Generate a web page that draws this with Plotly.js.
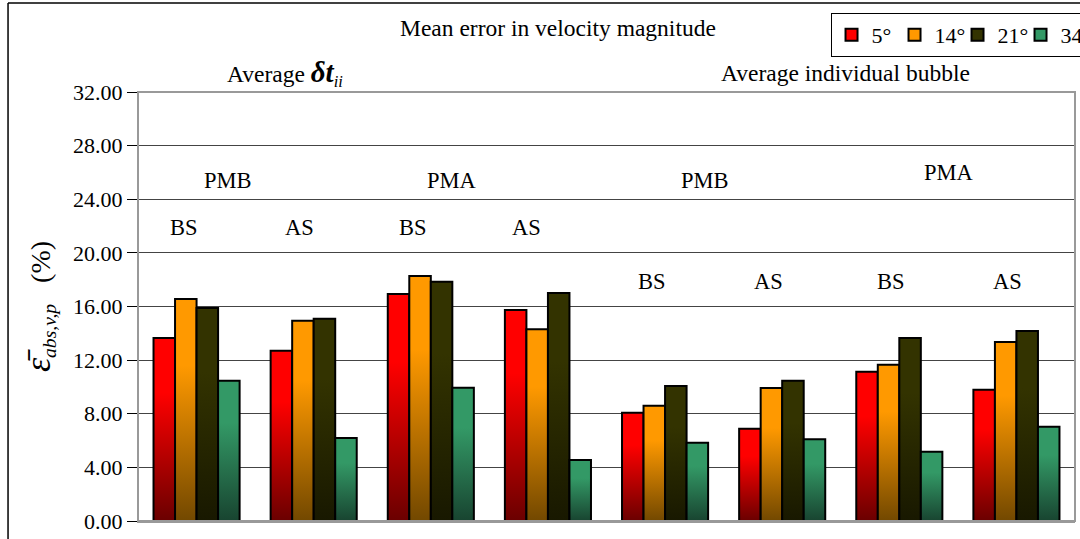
<!DOCTYPE html>
<html><head><meta charset="utf-8">
<script src="https://cdn.plot.ly/plotly-3.0.1.min.js"></script>
<style>html,body{margin:0;padding:0;background:#fff}#chart{width:1080px;height:539px}</style>
</head><body><div id="chart"></div>
<script>
const categories = ["δt PMB BS","δt PMB AS","δt PMA BS","δt PMA AS","Bubble PMB BS","Bubble PMB AS","Bubble PMA BS","Bubble PMA AS"];
const seriesNames = ["5°","14°","21°","34°"];
const v5  = [13.65, 12.70, 16.93, 15.74, 8.08, 6.89, 11.14, 9.79];
const v14 = [16.56, 14.94, 18.27, 14.30, 8.60, 9.92, 11.66, 13.35];
const v21 = [15.89, 15.09, 17.85, 17.00, 10.07, 10.47, 13.65, 14.17];
const v34 = [10.47, 6.19, 9.94, 4.55, 5.84, 6.09, 5.17, 7.03];
const yTicks = [0,4,8,12,16,20,24,28,32];
const groupLabels = ["BS","AS","BS","AS","BS","AS","BS","AS"];

const topColors = ["#ff0000","#ff9900","#333300","#339966"];
const botColors = ["#6a0000","#724800","#181800","#184430"];
const values = [v5,v14,v21,v34];

const traces = values.map((v,i)=>({
  type:'bar', name:seriesNames[i], x:categories, y:v,
  marker:{color:topColors[i], line:{color:'#000', width:2}}
}));

const font = "'Liberation Serif', 'Times New Roman', serif";
const txt = {family:font,size:22.5,color:'#000'};
const txtTop = {family:font,size:23.5,color:'#000'};
const labelY = [21.86,21.86,21.86,21.86,17.83,17.83,17.83,17.83];
const labelX = [-0.11,0.88,1.85,2.82,3.89,4.88,5.93,6.92];
const anns = groupLabels.map((t,i)=>({x:labelX[i], y:labelY[i], xref:'x', yref:'y', text:t, showarrow:false, xanchor:'center', yanchor:'middle', font:txt}));
anns.push({x:0.27,y:25.4,xref:'x',yref:'y',text:'PMB',showarrow:false,xanchor:'center',yanchor:'middle',font:txt});
anns.push({x:2.18,y:25.4,xref:'x',yref:'y',text:'PMA',showarrow:false,xanchor:'center',yanchor:'middle',font:txt});
anns.push({x:4.34,y:25.4,xref:'x',yref:'y',text:'PMB',showarrow:false,xanchor:'center',yanchor:'middle',font:txt});
anns.push({x:6.42,y:26.03,xref:'x',yref:'y',text:'PMA',showarrow:false,xanchor:'center',yanchor:'middle',font:txt});
anns.push({x:0.157,y:1.044,xref:'paper',yref:'paper',text:'Average <i><b><span style="font-size:29px">δt</span></b></i><sub><i>ii</i></sub>',showarrow:false,xanchor:'center',yanchor:'middle',font:txtTop});
anns.push({x:0.755,y:1.044,xref:'paper',yref:'paper',text:'Average individual bubble',showarrow:false,xanchor:'center',yanchor:'middle',font:txtTop});
anns.push({x:0.448,y:1.149,xref:'paper',yref:'paper',text:'Mean error in velocity magnitude',showarrow:false,xanchor:'center',yanchor:'middle',font:txtTop});

const layout = {
  width:1080, height:539,
  margin:{l:138, r:5, t:92, b:18, autoexpand:false},
  paper_bgcolor:'#fff', plot_bgcolor:'#fff',
  barmode:'group', bargap:0.265, bargroupgap:0,
  showlegend:true,
  legend:{orientation:'h', x:0.769, xref:'container', y:0.976, yref:'container', xanchor:'left', yanchor:'top',
    bordercolor:'#000', borderwidth:1, bgcolor:'#fff', font:{family:font,size:22,color:'#000'}, itemwidth:30, entrywidth:18, tracegroupgap:0},
  xaxis:{type:'category', showticklabels:false, ticks:'', showgrid:false, zeroline:false, showline:true, linecolor:'#999', linewidth:2, range:[-0.5,7.5], fixedrange:true},
  yaxis:{range:[0,32], tickvals:yTicks, tickformat:'.2f', ticks:'outside', ticklen:10, tickcolor:'#000', tickwidth:1,
    showline:true, linecolor:'#000', linewidth:1, showgrid:true, gridcolor:'#444', gridwidth:1, zeroline:false,
    tickfont:{family:font,size:22,color:'#000'},
    title:{text:'<i><span style="font-size:36px">ε̄</span></i><sub><i>abs,v,p</i></sub>   (%)', font:{family:font,size:28,color:'#000'}, standoff:14}},
  annotations:anns,
  shapes:[
    {type:'rect', xref:'paper', yref:'paper', x0:0, x1:1, y0:0, y1:1, line:{color:'#999', width:2}, fillcolor:'rgba(0,0,0,0)', layer:'above'},
    {type:'line', xref:'paper', yref:'paper', x0:-0.1387, x1:-0.1387, y0:-0.1, y1:1.2075, line:{color:'#000', width:1.5}},
    {type:'line', xref:'paper', yref:'paper', x0:-0.1387, x1:1.01, y0:1.2075, y1:1.2075, line:{color:'#000', width:1.5}}
  ]
};

Plotly.newPlot('chart', traces, layout, {displayModeBar:false, staticPlot:true}).then(gd=>{
  const svg = gd.querySelector('svg.main-svg');
  const ns = 'http://www.w3.org/2000/svg';
  let defs = svg.querySelector('defs');
  if(!defs){defs = document.createElementNS(ns,'defs'); svg.insertBefore(defs, svg.firstChild);}
  topColors.forEach((c,i)=>{
    const g = document.createElementNS(ns,'linearGradient');
    g.setAttribute('id','bargrad'+i); g.setAttribute('x1','0'); g.setAttribute('y1','0'); g.setAttribute('x2','0'); g.setAttribute('y2','1');
    [[0,c],[0.3,c],[1,botColors[i]]].forEach(([o,col])=>{
      const s = document.createElementNS(ns,'stop'); s.setAttribute('offset',o); s.setAttribute('stop-color',col); g.appendChild(s);
    });
    defs.appendChild(g);
  });
  gd.querySelectorAll('.barlayer .trace').forEach((t,i)=>{
    t.querySelectorAll('path').forEach(p=>{p.style.fill='url(#bargrad'+i+')';});
  });
});
</script></body></html>
